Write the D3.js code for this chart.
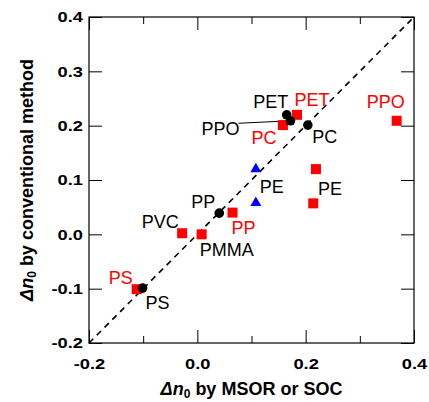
<!DOCTYPE html>
<html>
<head>
<meta charset="utf-8">
<script src="https://cdn.jsdelivr.net/npm/d3@7"></script>
<style>
  body { margin: 0; background: #fff; }
  svg { display: block; font-family: "Liberation Sans", Arial, sans-serif; }
</style>
</head>
<body>
<div id="chart-area"></div>
<script>
// data (x = by MSOR or SOC, y = by conventional method)
const squareNames = ["PET", "PC", "PPO", "PE", "PE", "PP", "PVC", "PMMA", "PS"];
const squareX = [0.184, 0.158, 0.368, 0.219, 0.214, 0.065, -0.028, 0.008, -0.112];
const squareY = [0.220, 0.201, 0.209, 0.120, 0.057, 0.040, 0.002, 0.000, -0.101];

const circleNames = ["PET", "PPO", "PC", "PP", "PS"];
const circleX = [0.165, 0.172, 0.204, 0.0405, -0.101];
const circleY = [0.220, 0.209, 0.201, 0.039, -0.099];

const triangleNames = ["PE", "PE"];
const triangleX = [0.108, 0.108];
const triangleY = [0.120, 0.058];

const majorTicks = [-0.2, 0.0, 0.2, 0.4];
const minorTicks = [-0.1, 0.1, 0.3];
const yTicks = [-0.2, -0.1, 0.0, 0.1, 0.2, 0.3, 0.4];

// label placement (pixel offsets from the marker), colour, optional leader line
const squareLabelLayout = [
	{dx: 15, dy: -9, color: "#ff0000"},
	{dx: -19, dy: 19, color: "#ff0000"},
	{dx: -11, dy: -13, color: "#ff0000"},
	{dx: 14, dy: 26, color: "#000"},
	null,
	{dx: 11, dy: 21, color: "#ff0000"},
	{dx: -22, dy: -5, color: "#000"},
	{dx: 25, dy: 22, color: "#000"},
	{dx: -16, dy: -5, color: "#ff0000"}
];
const circleLabelLayout = [
	{dx: -16, dy: -7, color: "#000"},
	{dx: -70, dy: 14, color: "#000", leader: [-52, 2.5]},
	{dx: 17, dy: 18, color: "#000"},
	{dx: -16, dy: -5, color: "#000"},
	{dx: 15, dy: 21, color: "#000"}
];
const triangleLabelLayout = [
	{dx: 16, dy: 24, color: "#000"},
	null
];

let width = 429,
	height = 402;

let margin = {top: 17, right: 15, bottom: 59, left: 89};
let innerW = width - margin.left - margin.right,
	innerH = height - margin.top - margin.bottom;

let svg = d3.select("#chart-area").append("svg")
	.attr("width", width)
	.attr("height", height);

let g = svg.append("g")
	.attr("transform", "translate(" + margin.left + "," + margin.top + ")");

let x = d3.scaleLinear().domain([-0.2, 0.4]).range([0, innerW]);
let y = d3.scaleLinear().domain([-0.2, 0.4]).range([innerH, 0]);

// plain hyphen for negatives, like the original
let fmt = v => d3.format(".1f")(v).replace("\u2212", "-");
let stretch = 1.22;

// bottom axis (major with labels, minor without)
let xAxis = g.append("g")
	.attr("transform", "translate(0," + innerH + ")")
	.call(d3.axisBottom(x).tickValues(majorTicks).tickFormat(fmt).tickSize(-13).tickPadding(15));
g.append("g")
	.attr("transform", "translate(0," + innerH + ")")
	.call(d3.axisBottom(x).tickValues(minorTicks).tickFormat("").tickSize(-7));

// top axis ticks
g.append("g")
	.call(d3.axisTop(x).tickValues(majorTicks).tickFormat("").tickSize(-13));
g.append("g")
	.call(d3.axisTop(x).tickValues(minorTicks).tickFormat("").tickSize(-7));

// left and right axes
let yAxis = g.append("g")
	.call(d3.axisLeft(y).tickValues(yTicks).tickFormat(fmt).tickSize(-13).tickPadding(6));
g.append("g")
	.attr("transform", "translate(" + innerW + ",0)")
	.call(d3.axisRight(y).tickValues(yTicks).tickFormat("").tickSize(-13));

g.selectAll(".domain").remove();
g.selectAll(".tick line").attr("stroke", "#000").attr("stroke-width", 1);

xAxis.selectAll("text")
	.attr("fill", "#000")
	.style("font-size", "15px")
	.style("font-weight", "bold")
	.attr("font-family", null)
	.attr("transform", "scale(" + stretch + ",1)");

yAxis.selectAll("text")
	.attr("fill", "#000")
	.style("font-size", "15px")
	.style("font-weight", "bold")
	.attr("font-family", null)
	.attr("x", -6 / stretch)
	.attr("transform", "scale(" + stretch + ",1)");

// frame
g.append("rect")
	.attr("x", 0).attr("y", 0)
	.attr("width", innerW).attr("height", innerH)
	.attr("fill", "none")
	.attr("stroke", "#000")
	.attr("stroke-width", 1.2);

// y = x reference line
g.append("line")
	.attr("x1", x(-0.2)).attr("y1", y(-0.2))
	.attr("x2", x(0.4)).attr("y2", y(0.4))
	.attr("stroke", "#000")
	.attr("stroke-width", 1.6)
	.attr("stroke-dasharray", "6,5");

function makeSeries(names, xs, ys, layout) {
	return names.map((n, i) => ({name: n, x: xs[i], y: ys[i], lab: layout[i]}));
}

let squares = makeSeries(squareNames, squareX, squareY, squareLabelLayout);
let circles = makeSeries(circleNames, circleX, circleY, circleLabelLayout);
let triangles = makeSeries(triangleNames, triangleX, triangleY, triangleLabelLayout);

// leader lines
circles.filter(d => d.lab && d.lab.leader).forEach(d => {
	g.append("line")
		.attr("x1", x(d.x) + d.lab.leader[0]).attr("y1", y(d.y) + d.lab.leader[1])
		.attr("x2", x(d.x)).attr("y2", y(d.y))
		.attr("stroke", "#000")
		.attr("stroke-width", 1);
});

g.selectAll(".sq").data(squares).enter()
	.append("path")
	.attr("class", "sq")
	.attr("d", d3.symbol().type(d3.symbolSquare).size(100))
	.attr("transform", d => "translate(" + x(d.x) + "," + y(d.y) + ")")
	.attr("fill", "#ff0000");

g.selectAll(".tri").data(triangles).enter()
	.append("path")
	.attr("class", "tri")
	.attr("d", d3.symbol().type(d3.symbolTriangle).size(52))
	.attr("transform", d => "translate(" + x(d.x) + "," + y(d.y) + ")")
	.attr("fill", "#0000ff");

g.selectAll(".dot").data(circles).enter()
	.append("circle")
	.attr("class", "dot")
	.attr("cx", d => x(d.x))
	.attr("cy", d => y(d.y))
	.attr("r", 4.8)
	.attr("fill", "#000");

// point labels
let labelled = squares.concat(triangles, circles).filter(d => d.lab);
g.selectAll(".lbl").data(labelled).enter()
	.append("text")
	.attr("class", "lbl")
	.attr("x", d => x(d.x) + d.lab.dx)
	.attr("y", d => y(d.y) + d.lab.dy)
	.attr("text-anchor", "middle")
	.attr("fill", d => d.lab.color)
	.style("font-size", "18px")
	.text(d => d.name);

// axis titles
let xTitle = svg.append("text")
	.attr("x", margin.left + innerW / 2)
	.attr("y", 395)
	.attr("text-anchor", "middle")
	.style("font-size", "18px")
	.style("font-weight", "bold");
xTitle.append("tspan").style("font-style", "italic").text("Δn");
xTitle.append("tspan").attr("dy", 3).style("font-size", "12px").text("0");
xTitle.append("tspan").attr("dy", -3).text(" by MSOR or SOC");

let yTitle = svg.append("text")
	.attr("transform", "translate(33," + (margin.top + innerH / 2) + ") rotate(-90)")
	.attr("text-anchor", "middle")
	.style("font-size", "18px")
	.style("font-weight", "bold");
yTitle.append("tspan").style("font-style", "italic").text("Δn");
yTitle.append("tspan").attr("dy", 3).style("font-size", "12px").text("0");
yTitle.append("tspan").attr("dy", -3).text(" by conventional method");
</script>
</body>
</html>
